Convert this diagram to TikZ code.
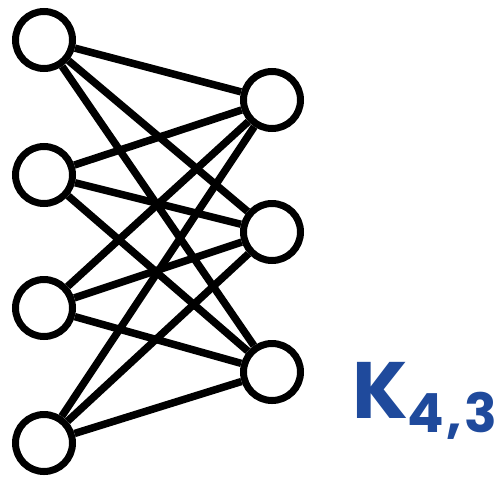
\documentclass[tikz,border=0pt]{standalone}
\usepackage{fontspec}
\setmainfont{Poppins}
\definecolor{kblue}{HTML}{1F4A9C}
\begin{document}
\begin{tikzpicture}[x=1pt,y=-1pt,
  vert/.style={circle,draw=black,fill=white,line width=7pt,minimum size=57pt,inner sep=0pt},
  edge/.style={line width=7.5pt}]
\useasboundingbox (0,0) rectangle (497,482);
\node[vert] (a1) at (44,40) {};
\node[vert] (a2) at (44,175) {};
\node[vert] (a3) at (44,308) {};
\node[vert] (a4) at (44,443) {};
\node[vert] (b1) at (272,100) {};
\node[vert] (b2) at (272,232) {};
\node[vert] (b3) at (272,372) {};
\foreach \a in {a1,a2,a3,a4}{
  \foreach \b in {b1,b2,b3}{
    \draw[edge] (\a) -- (\b);
  }
}
\node[anchor=base west,text=kblue,inner sep=0pt,font=\bfseries] (lbl) at (352,418)
  {\fontsize{80}{80}\selectfont K\raisebox{-14pt}{\fontsize{54}{54}\selectfont 4\kern2pt,\kern3pt3}};
\end{tikzpicture}
\end{document}
